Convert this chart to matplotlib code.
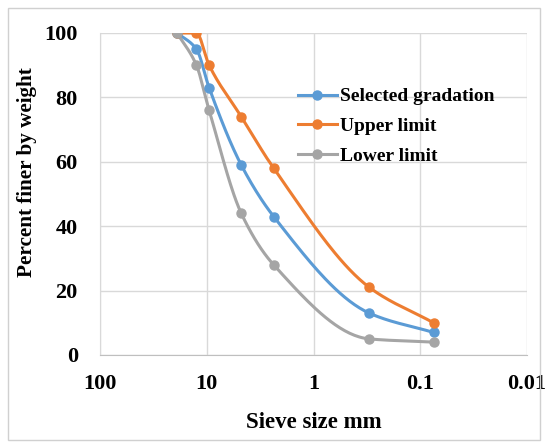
import numpy as np
import matplotlib
matplotlib.use("Agg")
import matplotlib.pyplot as plt
from matplotlib.patches import Rectangle

sieve_mm = [19, 12.5, 9.5, 4.75, 2.36, 0.3, 0.075]
selected = [100, 95, 83, 59, 43, 13, 7]
upper = [100, 100, 90, 74, 58, 21, 10]
lower = [100, 90, 76, 44, 28, 5, 4]
series_names = ["Selected gradation", "Upper limit", "Lower limit"]
colors = ["#5B9BD5", "#ED7D31", "#A5A5A5"]
x_ticks = [100, 10, 1, 0.1, 0.01]
x_tick_labels = ["100", "10", "1", "0.1", "0.01"]
y_ticks = [0, 20, 40, 60, 80, 100]

plt.rcParams['font.family'] = ['Liberation Serif', 'DejaVu Serif']
plt.rcParams['font.weight'] = 'bold'


def smooth(xs, ys, n=40):
    """Monotone cubic (PCHIP) curve through the points in (log10 x, y) space."""
    x = np.log10(np.asarray(xs, float))[::-1]
    y = np.asarray(ys, float)[::-1]
    h = np.diff(x)
    d = np.diff(y) / h
    m = np.zeros_like(y)
    for k in range(1, len(y) - 1):
        if d[k - 1] * d[k] > 0:
            w1 = 2 * h[k] + h[k - 1]
            w2 = h[k] + 2 * h[k - 1]
            m[k] = (w1 + w2) / (w1 / d[k - 1] + w2 / d[k])
    m[0] = d[0]
    m[-1] = d[-1]
    px, py = [], []
    for k in range(len(h)):
        t = np.linspace(0, 1, n)
        h00 = 2 * t**3 - 3 * t**2 + 1
        h10 = t**3 - 2 * t**2 + t
        h01 = -2 * t**3 + 3 * t**2
        h11 = t**3 - t**2
        yy = h00 * y[k] + h10 * h[k] * m[k] + h01 * y[k + 1] + h11 * h[k] * m[k + 1]
        xx = x[k] + t * h[k]
        px.append(xx)
        py.append(yy)
    return 10 ** np.concatenate(px), np.concatenate(py)


fig = plt.figure(figsize=(5.46, 4.43), dpi=100)
fig.patches.append(Rectangle((8 / 546, 3 / 443), 532 / 546, 432 / 443, transform=fig.transFigure,
                             fill=False, edgecolor="#d0d0d0", linewidth=1.0))
ax = fig.add_axes([100 / 546, 1 - 355 / 443, 427 / 546, 322 / 443])

for vals, name, col in zip([selected, upper, lower], series_names, colors):
    sx, sy = smooth(sieve_mm, vals)
    ax.plot(sx, sy, color=col, lw=2.2, solid_capstyle='round', zorder=3)
    ax.plot(sieve_mm, vals, 'o', color=col, ms=6.5, zorder=4)
    ax.plot([], [], '-o', color=col, lw=2.2, ms=6.5, label=name)

ax.set_xscale('log')
ax.set_xlim(100, 0.01)
ax.set_ylim(0, 100)
ax.set_xticks(x_ticks)
ax.set_xticklabels(x_tick_labels)
ax.minorticks_off()
ax.set_yticks(y_ticks)
ax.tick_params(length=0, labelsize=16)
ax.tick_params(axis='y', pad=16)
ax.tick_params(axis='x', pad=14)
for lab in ax.get_xticklabels() + ax.get_yticklabels():
    lab.set_fontweight('bold')
ax.grid(True, color="#d9d9d9", lw=1.0)
ax.set_axisbelow(True)
for s in ['top', 'right']:
    ax.spines[s].set_visible(False)
ax.spines['left'].set_color("#d9d9d9")
ax.spines['bottom'].set_color("#bfbfbf")

ax.set_xlabel("Sieve size mm", fontsize=16.5, fontweight='bold', labelpad=13)
ax.set_ylabel("Percent finer by weight", fontsize=15.2, fontweight='bold')
ax.yaxis.set_label_coords(-0.148, 0.568)

leg = ax.legend(loc='upper left', bbox_to_anchor=(288 / 546, 1 - 78 / 443),
                bbox_transform=fig.transFigure, frameon=False,
                prop={'size': 14, 'weight': 'bold'}, handlelength=2.0,
                handletextpad=0.15, labelspacing=0.62, borderpad=0)

fig.savefig("out.png", dpi=100)
